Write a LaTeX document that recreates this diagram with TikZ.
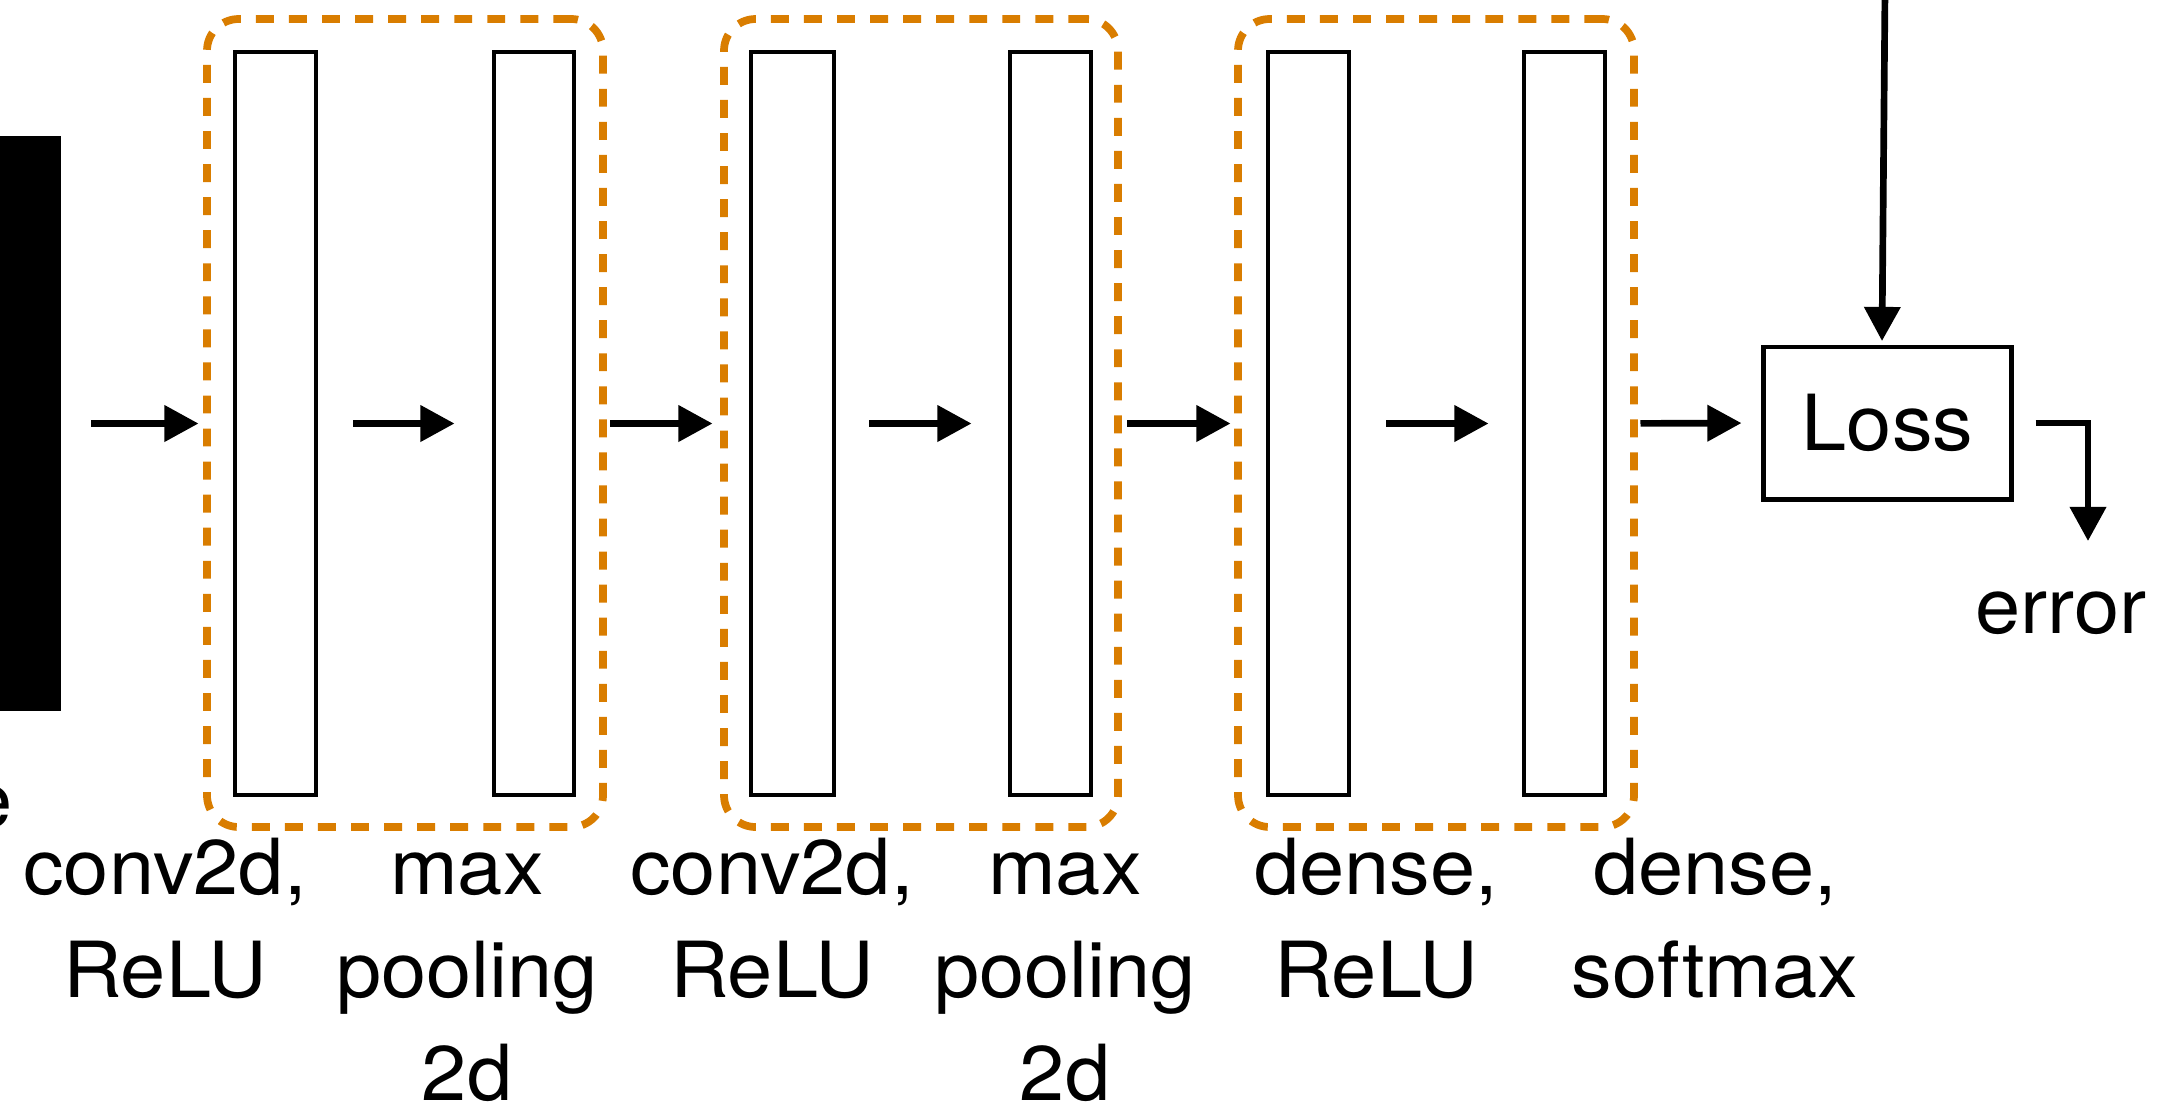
\documentclass[tikz,border=0pt]{standalone}
\usepackage{fontspec}
\setmainfont[FakeStretch=1.05]{TeX Gyre Heros}
\usetikzlibrary{arrows.meta,fit}
\definecolor{dashorange}{RGB}{217,125,0}
\begin{document}
\begin{tikzpicture}[x=0.01cm,y=-0.01cm,
  layerbox/.style={draw,line width=1.4pt,inner sep=0pt},
  groupbox/.style={draw=dashorange,line width=2.2pt,dash pattern=on 5.1pt off 4.3pt,rounded corners=9pt,inner sep=0pt},
  arr/.style={-{Triangle[length=9.7pt,width=10pt]},line width=1.9pt},
  txt/.style={font=\fontsize{22}{29.3}\selectfont},
  lbl/.style={txt,align=center,anchor=north,inner sep=0pt}
]
\useasboundingbox (0,0) rectangle (2157,1105);

% input block and partial label
\node[fill=black,inner sep=0pt,fit={(-10,136)(60.5,711)}] (in) {};
\node[txt,anchor=base east,inner sep=0pt] (inlbl) at (13,827) {e};

% dashed groups
\node[groupbox,fit={(207,19)(603,827)}] (g1) {};
\node[groupbox,fit={(724,19)(1118,827)}] (g2) {};
\node[groupbox,fit={(1238,19)(1634,827)}] (g3) {};

% layers
\node[layerbox,fit={(235,52)(316,795)}] (c1a) {};
\node[layerbox,fit={(494,52)(574,795)}] (c1b) {};
\node[layerbox,fit={(751,52)(834,795)}] (c2a) {};
\node[layerbox,fit={(1010,52)(1091,795)}] (c2b) {};
\node[layerbox,fit={(1268,52)(1349,795)}] (c3a) {};
\node[layerbox,fit={(1524,52)(1605,795)}] (c3b) {};

% loss
\node[layerbox,txt,minimum width=2.47cm,minimum height=1.52cm] (loss) at (1887.5,423) {Loss};
\node[txt,anchor=base,inner sep=0pt] (err) at (2061,633) {error};
\coordinate (errtip) at (2088,541);
\coordinate (topsrc) at (1885,-10);
\coordinate (topend) at (1882,341);

% connectors
\draw[arr,shorten <=0.30cm,shorten >=0.34cm] (in.east) -- (c1a.west);
\draw[arr,shorten <=0.35cm,shorten >=0.37cm] (c1a.east) -- (c1b.west);
\draw[arr,shorten <=0.34cm,shorten >=0.36cm] (c1b.east) -- (c2a.west);
\draw[arr,shorten <=0.33cm,shorten >=0.36cm] (c2a.east) -- (c2b.west);
\draw[arr,shorten <=0.34cm,shorten >=0.35cm] (c2b.east) -- (c3a.west);
\draw[arr,shorten <=0.35cm,shorten >=0.33cm] (c3a.east) -- (c3b.west);
\draw[arr,shorten <=0.33cm,shorten >=0.20cm] (c3b.east) -- (loss.west);
\draw[arr] (topsrc) -- (topend);
\draw[arr] ([xshift=0.22cm]loss.east) -| (errtip);

% labels
\node[lbl] (l1) at (165,822) {\strut conv2d,\\ReLU};
\node[lbl] (l2) at (467,822) {\strut max\\pooling\\2d};
\node[lbl] (l3) at (772,822) {\strut conv2d,\\ReLU};
\node[lbl] (l4) at (1065,822) {\strut max\\pooling\\2d};
\node[lbl] (l5) at (1376,822) {\strut dense,\\ReLU};
\node[lbl] (l6) at (1715,822) {\strut dense,\\softmax};
\end{tikzpicture}
\end{document}
